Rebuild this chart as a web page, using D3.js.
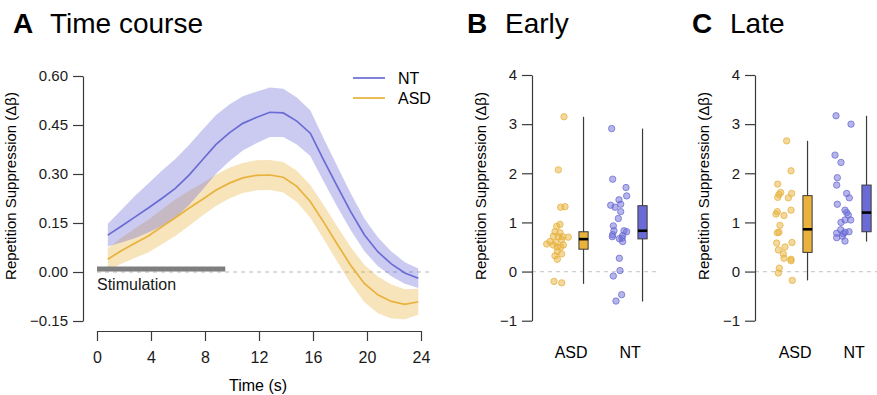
<!DOCTYPE html>
<html>
<head>
<meta charset="utf-8">
<script src="https://cdn.jsdelivr.net/npm/d3@7/dist/d3.min.js"></script>
<style>
  body { margin: 0; background: #fff; }
  svg { font-family: "Liberation Sans", Arial, Helvetica, sans-serif; }
  .axis path, .axis line { stroke: #3a3a3a; stroke-width: 1.2; }
  .axis text { fill: #1a1a1a; }
</style>
</head>
<body>
<svg id="chart" width="877" height="395"></svg>
<script>
// ---- data: time course (panel A) ----
const times = [0.8, 1.8, 2.8, 3.8, 4.8, 5.8, 6.8, 7.8, 8.8, 9.8, 10.8, 11.8,
               12.8, 13.8, 14.8, 15.8, 16.8, 17.8, 18.8, 19.8, 20.8, 21.8, 22.8, 23.8];
const ntMean = [0.113, 0.140, 0.168, 0.196, 0.225, 0.256, 0.296, 0.343, 0.390, 0.426, 0.455, 0.473,
                0.489, 0.487, 0.462, 0.425, 0.342, 0.262, 0.184, 0.114, 0.062, 0.025, -0.003, -0.019];
const ntErr = [0.035, 0.050, 0.065, 0.075, 0.085, 0.090, 0.092, 0.092, 0.090, 0.087, 0.083, 0.079,
               0.076, 0.074, 0.072, 0.070, 0.066, 0.062, 0.056, 0.050, 0.044, 0.038, 0.033, 0.030];
const asdMean = [0.039, 0.065, 0.088, 0.110, 0.138, 0.166, 0.195, 0.222, 0.250, 0.272, 0.288, 0.296,
                 0.297, 0.290, 0.262, 0.216, 0.152, 0.085, 0.020, -0.035, -0.070, -0.090, -0.099, -0.091];
const asdErr = [0.034, 0.040, 0.045, 0.050, 0.053, 0.056, 0.054, 0.050, 0.048, 0.047, 0.046, 0.046,
                0.046, 0.047, 0.048, 0.050, 0.052, 0.054, 0.056, 0.057, 0.056, 0.052, 0.046, 0.040];
const timeTicks = [0, 4, 8, 12, 16, 20, 24];
const aTicks = [-0.15, 0.00, 0.15, 0.30, 0.45, 0.60];
const stimulation = [0, 9.5];

// ---- data: individual values (panels B, C) ----
const groups = ['ASD', 'NT'];
const bTicks = [-1, 0, 1, 2, 3, 4];

const earlyAsd = [3.15, 2.07, 1.31, 1.32, 0.96, 0.92, 0.81, 0.79, 0.72, 0.71, 0.71, 0.70, 0.61,
                  0.59, 0.65, 0.54, 0.56, 0.54, 0.50, 0.50, 0.41, 0.36, 0.32, 0.25, -0.20, -0.23];
const earlyAsdJitter = [0.089, -0.007, 0.032, 0.106, 0.021, -0.035, -0.064, 0.021, -0.092, -0.007, 0.067, 0.162, -0.148,
                        -0.047, 0.050, 0.078, -0.204, -0.092, -0.024, 0.032, -0.024, 0.050, -0.064, -0.024, -0.080, 0.050];
const earlyNt = [2.91, 1.88, 1.71, 1.54, 1.46, 1.35, 1.31, 1.37, 1.22, 1.08, 0.93, 0.83, 0.83,
                 0.81, 0.75, 0.71, 0.73, 0.68, 0.67, 0.61, 0.27, 0.02, -0.09, -0.47, -0.60];
const earlyNtJitter = [-0.103, -0.086, 0.140, 0.151, 0.021, -0.120, -0.047, 0.050, 0.050, 0.010, -0.075, -0.064, 0.106,
                       0.151, -0.086, -0.092, 0.083, 0.072, 0.027, 0.083, 0.027, 0.038, -0.075, 0.066, -0.030];
const lateAsd = [2.66, 2.05, 1.78, 1.61, 1.57, 1.59, 1.51, 1.50, 1.25, 1.22, 1.17, 1.14, 0.94,
                 0.80, 0.79, 0.59, 0.58, 0.50, 0.44, 0.36, 0.27, 0.25, 0.22, 0.07, -0.03, -0.18];
const lateAsdJitter = [0.066, 0.140, -0.086, -0.035, -0.064, 0.151, -0.086, 0.095, 0.140, -0.092, -0.114, 0.021, -0.047,
                       -0.064, -0.092, 0.157, -0.103, 0.038, -0.075, 0.010, 0.021, 0.140, 0.140, -0.058, -0.075, 0.162];
const lateNt = [3.17, 3.00, 2.37, 2.22, 1.91, 1.76, 1.59, 1.50, 1.37, 1.25, 1.20, 1.15, 1.05,
                1.05, 1.00, 0.81, 0.80, 0.78, 0.85, 0.77, 0.69, 0.72, 0.62];
const lateNtJitter = [-0.097, 0.157, -0.114, -0.013, -0.075, -0.086, 0.083, 0.128, -0.075, 0.055, 0.083, 0.111, 0.055,
                      0.151, -0.013, 0.123, 0.055, -0.086, -0.018, 0.027, -0.086, 0.010, 0.055];

// box stats: [min, q1, median, q3, max]
const earlyAsdBox = [-0.25, 0.455, 0.66, 0.81, 3.15];
const earlyNtBox = [-0.61, 0.665, 0.83, 1.34, 2.91];
const lateAsdBox = [-0.18, 0.39, 0.86, 1.545, 2.66];
const lateNtBox = [0.61, 0.81, 1.20, 1.76, 3.17];

const colors = { NT: '#6b6bd6', ASD: '#e8b23c' };

const svg = d3.select('#chart');

// ---------------- Panel A ----------------
const xA = d3.scaleLinear().domain([0, 24]).range([97, 421]);
const yA = d3.scaleLinear().domain([-0.15, 0.60]).range([321, 76]);

// zero reference
svg.append('line')
  .attr('x1', xA(0)).attr('x2', 432)
  .attr('y1', yA(0)).attr('y2', yA(0))
  .attr('stroke', '#cfcfcf').attr('stroke-width', 1.3)
  .attr('stroke-dasharray', '4,4');

const series = [
  { name: 'ASD', mean: asdMean, err: asdErr },
  { name: 'NT', mean: ntMean, err: ntErr }
];

const band = d3.area()
  .x((d, i) => xA(times[i]))
  .y0(d => yA(d.m - d.e))
  .y1(d => yA(d.m + d.e));
const line = d3.line()
  .x((d, i) => xA(times[i]))
  .y(d => yA(d.m));

series.forEach(s => {
  const pts = s.mean.map((m, i) => ({ m: m, e: s.err[i] }));
  svg.append('path')
    .datum(pts)
    .attr('d', band)
    .attr('fill', colors[s.name])
    .attr('fill-opacity', 0.35);
});
series.forEach(s => {
  const pts = s.mean.map((m, i) => ({ m: m, e: s.err[i] }));
  svg.append('path')
    .datum(pts)
    .attr('d', line)
    .attr('fill', 'none')
    .attr('stroke', colors[s.name])
    .attr('stroke-width', 1.7);
});

// stimulation bar
svg.append('rect')
  .attr('x', xA(stimulation[0]))
  .attr('width', xA(stimulation[1]) - xA(stimulation[0]))
  .attr('y', yA(0) - 5.5)
  .attr('height', 5)
  .attr('fill', '#7f7f7f');
svg.append('text')
  .attr('x', xA(stimulation[0]))
  .attr('y', 290)
  .style('font-size', '16px')
  .attr('fill', '#1a1a1a')
  .text('Stimulation');

// axes
svg.append('g')
  .attr('class', 'axis')
  .attr('transform', 'translate(83,0)')
  .style('font-size', '15px')
  .call(d3.axisLeft(yA).tickValues(aTicks).tickFormat(d3.format('.2f'))
    .tickSize(10).tickSizeOuter(0).tickPadding(5));

svg.append('g')
  .attr('class', 'axis')
  .attr('transform', 'translate(0,331)')
  .style('font-size', '16px')
  .call(d3.axisBottom(xA).tickValues(timeTicks).tickFormat(d3.format('d'))
    .tickSize(10).tickSizeOuter(0).tickPadding(11));

svg.selectAll('.axis .domain').attr('stroke', '#3a3a3a');

svg.append('text')
  .attr('x', 258).attr('y', 391)
  .attr('text-anchor', 'middle')
  .style('font-size', '16px')
  .text('Time (s)');

// legend
const legend = [
  { name: 'NT', y: 78 },
  { name: 'ASD', y: 98 }
];
legend.forEach(l => {
  svg.append('line')
    .attr('x1', 353).attr('x2', 385)
    .attr('y1', l.y).attr('y2', l.y)
    .attr('stroke', colors[l.name]).attr('stroke-width', 1.7);
  svg.append('text')
    .attr('x', 398).attr('y', l.y + 6)
    .style('font-size', '16px')
    .text(l.name);
});

// ---------------- Panels B, C ----------------
const yB = d3.scaleLinear().domain([-1, 4]).range([320.7, 75]);

const panels = [
  { axisX: 532, range: [544, 662], zeroEnd: 658,
    vals: { ASD: earlyAsd, NT: earlyNt },
    jit: { ASD: earlyAsdJitter, NT: earlyNtJitter },
    box: { ASD: earlyAsdBox, NT: earlyNtBox } },
  { axisX: 755, range: [768, 886], zeroEnd: 877,
    vals: { ASD: lateAsd, NT: lateNt },
    jit: { ASD: lateAsdJitter, NT: lateNtJitter },
    box: { ASD: lateAsdBox, NT: lateNtBox } }
];

panels.forEach(p => {
  const x = d3.scaleBand().domain(groups).range(p.range);
  const bw = x.bandwidth();
  const g = svg.append('g');

  g.append('line')
    .attr('x1', p.axisX).attr('x2', p.zeroEnd)
    .attr('y1', yB(0)).attr('y2', yB(0))
    .attr('stroke', '#cfcfcf').attr('stroke-width', 1.3)
    .attr('stroke-dasharray', '4,4');

  groups.forEach(grp => {
    const cx = x(grp) + bw * 0.25;
    const bx = x(grp) + bw * 0.67;
    const b = p.box[grp];

    // points
    g.selectAll(null)
      .data(p.vals[grp])
      .enter()
      .append('circle')
      .attr('cx', (d, i) => cx + p.jit[grp][i] * bw)
      .attr('cy', d => yB(d))
      .attr('r', 3.2)
      .attr('fill', colors[grp])
      .attr('fill-opacity', 0.5)
      .attr('stroke', colors[grp])
      .attr('stroke-opacity', 0.75)
      .attr('stroke-width', 1);

    // whisker
    g.append('line')
      .attr('x1', bx).attr('x2', bx)
      .attr('y1', yB(b[0])).attr('y2', yB(b[4]))
      .attr('stroke', '#3a3a3a').attr('stroke-width', 1.2);
    // box
    g.append('rect')
      .attr('x', bx - 4.6).attr('width', 9.2)
      .attr('y', yB(b[3])).attr('height', yB(b[1]) - yB(b[3]))
      .attr('fill', colors[grp])
      .attr('stroke', '#3a3a3a').attr('stroke-width', 1);
    // median
    g.append('line')
      .attr('x1', bx - 4.6).attr('x2', bx + 4.6)
      .attr('y1', yB(b[2])).attr('y2', yB(b[2]))
      .attr('stroke', '#000').attr('stroke-width', 2.6);

    // category label
    g.append('text')
      .attr('x', x(grp) + bw * 0.46)
      .attr('y', 358)
      .attr('text-anchor', 'middle')
      .style('font-size', '16px')
      .text(grp);
  });

  g.append('g')
    .attr('class', 'axis')
    .attr('transform', `translate(${p.axisX},0)`)
    .style('font-size', '15px')
    .call(d3.axisLeft(yB).tickValues(bTicks).tickFormat(d3.format('d'))
      .tickSize(10).tickSizeOuter(0).tickPadding(5));
});

// y labels
[11, 481, 704].forEach(xPos => {
  svg.append('text')
    .attr('transform', `translate(${xPos + 5},186) rotate(-90)`)
    .attr('text-anchor', 'middle')
    .style('font-size', '15px')
    .text('Repetition Suppression (Δβ)');
});

// panel titles
const titles = [
  { letter: 'A', x: 13, label: 'Time course', lx: 50 },
  { letter: 'B', x: 467, label: 'Early', lx: 505 },
  { letter: 'C', x: 692, label: 'Late', lx: 730 }
];
titles.forEach(t => {
  svg.append('text')
    .attr('x', t.x).attr('y', 33)
    .style('font-size', '28px').style('font-weight', 'bold')
    .text(t.letter);
  svg.append('text')
    .attr('x', t.lx).attr('y', 33)
    .style('font-size', '28px')
    .text(t.label);
});
</script>
</body>
</html>
